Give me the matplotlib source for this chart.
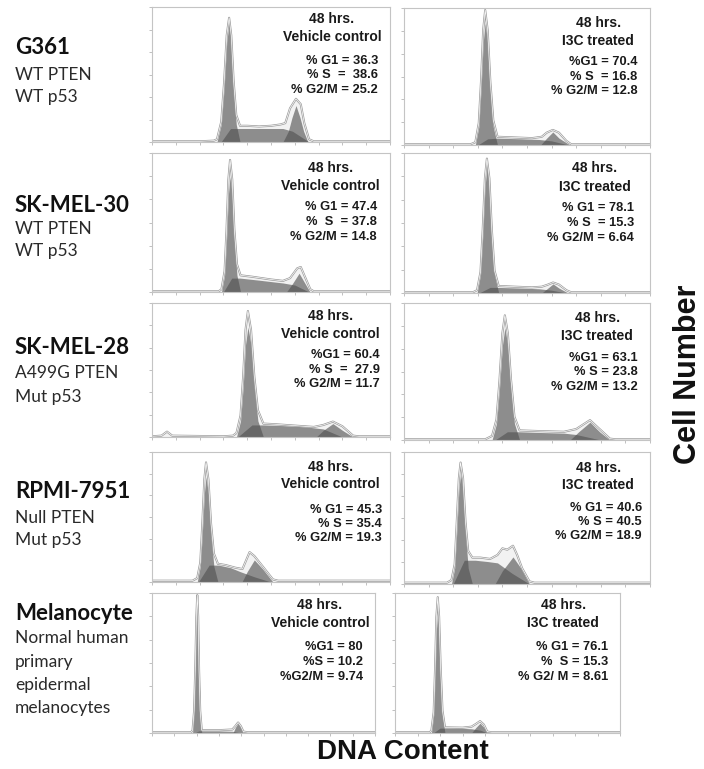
import matplotlib
matplotlib.use("Agg")
import matplotlib.pyplot as plt

# ---- data ----
cell_lines = ["G361", "SK-MEL-30", "SK-MEL-28", "RPMI-7951", "Melanocyte"]
cell_notes = [
    ["WT PTEN", "WT p53"],
    ["WT PTEN", "WT p53"],
    ["A499G PTEN", "Mut p53"],
    ["Null PTEN", "Mut p53"],
    ["Normal human", "primary", "epidermal", "melanocytes"],
]
conditions = ["Vehicle control", "I3C treated"]

# panels ordered row by row: (vehicle, I3C)
g1_pct = [36.3, 70.4, 47.4, 78.1, 60.4, 63.1, 45.3, 40.6, 80, 76.1]
s_pct = [38.6, 16.8, 37.8, 15.3, 27.9, 23.8, 35.4, 40.5, 10.2, 15.3]
g2m_pct = [25.2, 12.8, 14.8, 6.64, 11.7, 13.2, 19.3, 18.9, 9.74, 8.61]
stat_labels = [
    ("% G1 = ", "% S  =  ", "% G2/M = "),
    ("%G1 = ", "% S  = ", "% G2/M = "),
    ("% G1 = ", "%  S  = ", "% G2/M = "),
    ("% G1 = ", "% S  = ", "% G2/M = "),
    ("%G1 = ", "% S  =  ", "% G2/M = "),
    ("%G1 = ", "% S = ", "% G2/M = "),
    ("% G1 = ", "% S = ", "% G2/M = "),
    ("% G1 = ", "% S = ", "% G2/M = "),
    ("%G1 = ", "%S = ", "%G2/M = "),
    ("% G1 = ", "%  S = ", "% G2/ M = "),
]

# DNA histogram outlines and ModFit components, (channel %, count %)
g1_fit = [
    [(27.3, 0), (29.1, 13), (30.3, 40), (31.4, 74), (32.4, 88), (33.3, 74), (34.3, 40), (35.4, 13), (37, 0)],
    [(29, 0), (30.4, 13), (31.3, 40), (32.2, 75), (33, 89), (34, 75), (35.1, 40), (36.3, 13), (38, 0)],
    [(29.2, 0), (30.5, 12), (31.3, 37), (32.1, 70), (32.8, 83), (33.7, 70), (34.6, 37), (35.7, 12), (37.2, 0)],
    [(29.7, 0), (31.1, 13), (32, 40), (32.9, 75), (33.7, 90), (34.7, 75), (35.7, 40), (36.8, 13), (38.5, 0)],
    [(35.5, 0), (37.2, 12), (38.3, 37), (39.3, 69), (40.3, 82), (41.6, 69), (43, 37), (44.5, 12), (46.8, 0)],
    [(35.8, 0), (37.6, 12), (38.8, 37), (40, 69), (41, 82), (42.2, 69), (43.5, 37), (44.9, 12), (47, 0)],
    [(19, 0), (20.3, 12), (21.1, 36), (22, 68), (22.7, 81), (23.7, 68), (24.8, 36), (26, 12), (27.7, 0)],
    [(19.3, 0), (20.6, 12), (21.4, 38), (22.3, 71), (23, 84), (24, 71), (25, 38), (26.1, 12), (27.8, 0)],
    [(18.2, 0), (18.9, 15), (19.4, 44), (19.9, 82), (20.3, 98), (20.7, 82), (21.1, 44), (21.6, 15), (22.3, 0)],
    [(16.2, 0), (17.2, 13), (17.8, 40), (18.4, 74), (19, 84), (19.6, 74), (20.3, 40), (21.1, 13), (22.2, 0)],
]
s_fit = [
    [(29, 0), (33, 10), (36, 10), (45, 10), (55, 10), (59, 8), (66, 0)],
    [(30, 0), (34, 4.5), (38, 5), (48, 4.5), (55, 4), (60, 3), (67, 0)],
    [(30, 0), (33.5, 10), (37, 10), (45, 8.5), (55, 6.5), (60, 5), (66, 0)],
    [(30.5, 0), (35, 4), (38, 4), (48, 3.5), (55, 3), (60, 2), (66, 0)],
    [(36, 0), (42, 9), (47, 9), (55, 8.5), (65, 7.5), (72, 6), (80, 0)],
    [(37, 0), (42, 6), (47, 6), (55, 5.5), (65, 5), (70, 4), (80, 0)],
    [(19.5, 0), (24, 13), (28, 13), (33, 11), (37, 8), (43, 4), (50, 0)],
    [(20, 0), (24.5, 18), (29, 18), (34, 17), (38, 16), (44, 8), (51, 0)],
    [(19, 0), (21, 1.5), (30, 1.5), (36, 1.2), (40, 0)],
    [(17, 0), (20, 3.5), (28, 3.5), (34, 3), (38, 2), (41, 0)],
]
g2_fit = [
    [(55, 0), (57.3, 8), (58.8, 18), (60.5, 27), (62.2, 18), (63.7, 8), (65.5, 0)],
    [(55.5, 0), (58, 5), (60.5, 9.5), (63, 5), (67.5, 0)],
    [(56.5, 0), (59, 6), (61.8, 13.5), (64, 7), (66.4, 0)],
    [(56, 0), (58.5, 3.5), (60.6, 6.5), (63, 3.5), (66.7, 0)],
    [(69, 0), (72, 5), (76, 10), (80, 5), (84.5, 0)],
    [(67.5, 0), (71, 6), (75.6, 13), (79.5, 6), (83.7, 0)],
    [(37.8, 0), (40, 8), (43, 17), (46.5, 10), (50.8, 0)],
    [(37, 0), (40, 10), (44.3, 20.5), (47.5, 12), (51, 0)],
    [(36.3, 0), (37.4, 4), (38.6, 7), (39.8, 4), (40.8, 0)],
    [(34, 0), (36, 4), (37.8, 7), (39.5, 4), (41, 0)],
]
histograms = [
    [(0, 0.5), (20, 0.5), (26, 1), (27.3, 2), (29.1, 15), (30.3, 44), (31.4, 79), (32.4, 92),
     (33.3, 79), (34.3, 45), (35.4, 20), (37, 12), (40, 12), (45, 11.5), (50, 12), (54, 13),
     (56, 14), (58, 25), (60.5, 32), (62.5, 28), (64, 14), (66, 2), (68, 0.5), (100, 0.5)],
    [(0, 0.5), (27, 0.5), (29, 2), (30.4, 16), (31.3, 46), (32.2, 84), (33, 98.5), (34, 84),
     (35.1, 46), (36.3, 18), (38, 6), (45, 5.5), (52, 5), (56, 6), (58, 9), (60.5, 11),
     (63, 9), (66, 3), (68, 0.5), (100, 0.5)],
    [(0, 0.5), (28, 0.5), (29.2, 2), (30.5, 15), (31.3, 44), (32.1, 81), (32.8, 95), (33.7, 81),
     (34.6, 45), (35.7, 20), (37.2, 12), (42, 11), (50, 9), (55, 8), (58, 10), (61, 17),
     (62.5, 18), (64.5, 10), (66.5, 2), (68, 0.5), (100, 0.5)],
    [(0, 0.5), (28, 0.5), (29.7, 2), (31.1, 15), (32, 45), (32.9, 82), (33.7, 96), (34.7, 82),
     (35.7, 45), (36.8, 16), (38.5, 5), (45, 4.5), (52, 4), (56, 4.5), (58.5, 6), (60.6, 7.5),
     (63, 6), (66, 2), (68, 0.5), (100, 0.5)],
    [(0, 0.5), (4, 1), (6.3, 4), (8.5, 1), (30, 0.5), (34, 1), (35.5, 3), (37.2, 16), (38.3, 45),
     (39.3, 80), (40.3, 94), (41.6, 80), (43, 45), (44.5, 20), (46.8, 10), (52, 9.5),
     (60, 8.5), (68, 7.5), (72, 9), (76, 11.5), (80, 8), (84.5, 1), (87, 0.5), (100, 0.5)],
    [(0, 0.5), (33, 0.5), (35.8, 3), (37.6, 15), (38.8, 43), (40, 78), (41, 91), (42.2, 78),
     (43.5, 44), (44.9, 17), (47, 7), (55, 6.5), (65, 6), (70, 8), (75.6, 14.5), (79.5, 8),
     (83.7, 1), (86, 0.5), (100, 0.5)],
    [(0, 1), (17, 1), (19, 3), (20.3, 15), (21.1, 43), (22, 79), (22.7, 92), (23.7, 79),
     (24.8, 45), (26, 22), (27.7, 14), (31, 13), (35, 11), (38, 10), (41, 23), (43, 20),
     (46.5, 12), (50.8, 2), (53, 1), (100, 1)],
    [(0, 1), (17.5, 1), (19.3, 3), (20.6, 15), (21.4, 45), (22.3, 80), (23, 92), (24, 80),
     (25, 47), (26.1, 25), (27.8, 20), (31, 20), (35, 19), (38, 22), (40, 27), (42, 26),
     (44.3, 29), (46, 22), (48, 12), (51, 2), (53, 1), (100, 1)],
    [(0, 0.5), (17.5, 0.5), (18.2, 2), (18.9, 16), (19.4, 45), (19.9, 83), (20.3, 98.5),
     (20.7, 83), (21.1, 45), (21.6, 16), (22.3, 2), (30, 2), (36, 2.5), (37.4, 5), (38.6, 7.5),
     (39.8, 5), (41, 1), (43, 0.5), (100, 0.5)],
    [(0, 0.5), (15.5, 0.5), (16.2, 2), (17.2, 15), (17.8, 45), (18.4, 83), (19, 97), (19.6, 83),
     (20.3, 46), (21.1, 16), (22.2, 4), (30, 3.8), (34, 4.5), (36, 6.5), (37.8, 8.5), (39.5, 6),
     (41, 1), (43, 0.5), (100, 0.5)],
]

# ---- layout (pixels in a 704x769 canvas) ----
W, H = 704, 769
panel_px = [
    (152, 390, 7, 142), (404, 650, 8, 145),
    (152, 390, 153, 292), (404, 650, 153, 293),
    (152, 390, 303, 437), (404, 650, 303, 440),
    (152, 390, 452, 582), (404, 650, 452, 584),
    (152, 375, 593, 733), (395, 620, 593, 733),
]
# header x centre, header y, stats right edge, first stat y (axes fractions)
text_pos = [
    (0.756, 0.91, 0.95, 0.60), (0.79, 0.89, 0.95, 0.606),
    (0.75, 0.89, 0.945, 0.61), (0.776, 0.89, 0.935, 0.61),
    (0.75, 0.90, 0.958, 0.61), (0.785, 0.89, 0.95, 0.60),
    (0.75, 0.885, 0.966, 0.554), (0.79, 0.88, 0.967, 0.575),
    (0.753, 0.914, 0.946, 0.614), (0.747, 0.914, 0.947, 0.614),
]
label_px = [(48, 75, 97), (205, 229, 251), (348, 373, 397), (492, 518, 540),
            (613, 638, 662, 685, 708)]

fig = plt.figure(figsize=(W / 100, H / 100), dpi=100)
fig.patch.set_facecolor("white")

fill_col = "#505050"
spine_col = "#c4c4c4"

for i, (x0, x1, y0, y1) in enumerate(panel_px):
    ax = fig.add_axes([x0 / W, 1 - y1 / H, (x1 - x0) / W, (y1 - y0) / H])
    ax.set_xlim(0, 100)
    ax.set_ylim(0, 100)
    for sp in ax.spines.values():
        sp.set_color(spine_col)
        sp.set_linewidth(0.8)
    ax.set_xticks([k * 10 for k in range(11)])
    ax.set_yticks([k * 100 / 6 for k in range(7)])
    ax.tick_params(length=2.5, width=0.6, color="#b5b5b5", labelbottom=False,
                   labelleft=False, direction="out")

    hx, hy = zip(*histograms[i])
    ax.fill_between(hx, hy, color="#f2f2f2", lw=0)
    for comp in (s_fit[i], g1_fit[i], g2_fit[i]):
        cx, cy = zip(*comp)
        ax.fill_between(cx, cy, color=fill_col, alpha=0.62, lw=0)
    ax.plot(hx, hy, color="#9a9a9a", lw=1.5, solid_joinstyle="round")
    ax.plot(hx, hy, color="white", lw=0.5)

    cx, hy_top, sx, sy = text_pos[i]
    ax.text(cx, hy_top, "48 hrs.", transform=ax.transAxes, ha="center", va="center",
            fontsize=10, fontweight="bold", family="Liberation Sans", color="#1a1a1a")
    ax.text(cx, hy_top - 0.13, conditions[i % 2], transform=ax.transAxes, ha="center",
            va="center", fontsize=10, fontweight="bold", family="Liberation Sans",
            color="#1a1a1a")
    vals = (g1_pct[i], s_pct[i], g2m_pct[i])
    for k, (lab, v) in enumerate(zip(stat_labels[i], vals)):
        ax.text(sx, sy - k * 0.107, f"{lab}{v:g}", transform=ax.transAxes, ha="right",
                va="center", fontsize=9.3, fontweight="bold", family="Liberation Sans",
                color="#1a1a1a")

for r, name in enumerate(cell_lines):
    ys = label_px[r]
    fig.text(15 / W, 1 - ys[0] / H, name, ha="left", va="center", fontsize=16,
             fontweight="bold", family="Lato", color="#111111")
    for note, y in zip(cell_notes[r], ys[1:]):
        fig.text(15 / W, 1 - y / H, note, ha="left", va="center", fontsize=12.5,
                 family="Lato", color="#2a2a2a")

fig.text(403 / W, 1 - 752 / H, "DNA Content", ha="center", va="center", fontsize=20,
         fontweight="bold", family="Liberation Sans", color="#111111")
fig.text(688 / W, 1 - 374 / H, "Cell Number", ha="center", va="center", fontsize=22,
         fontweight="bold", family="Liberation Sans", rotation=90, color="#111111")

fig.savefig("out.png", dpi=100, facecolor="white")
